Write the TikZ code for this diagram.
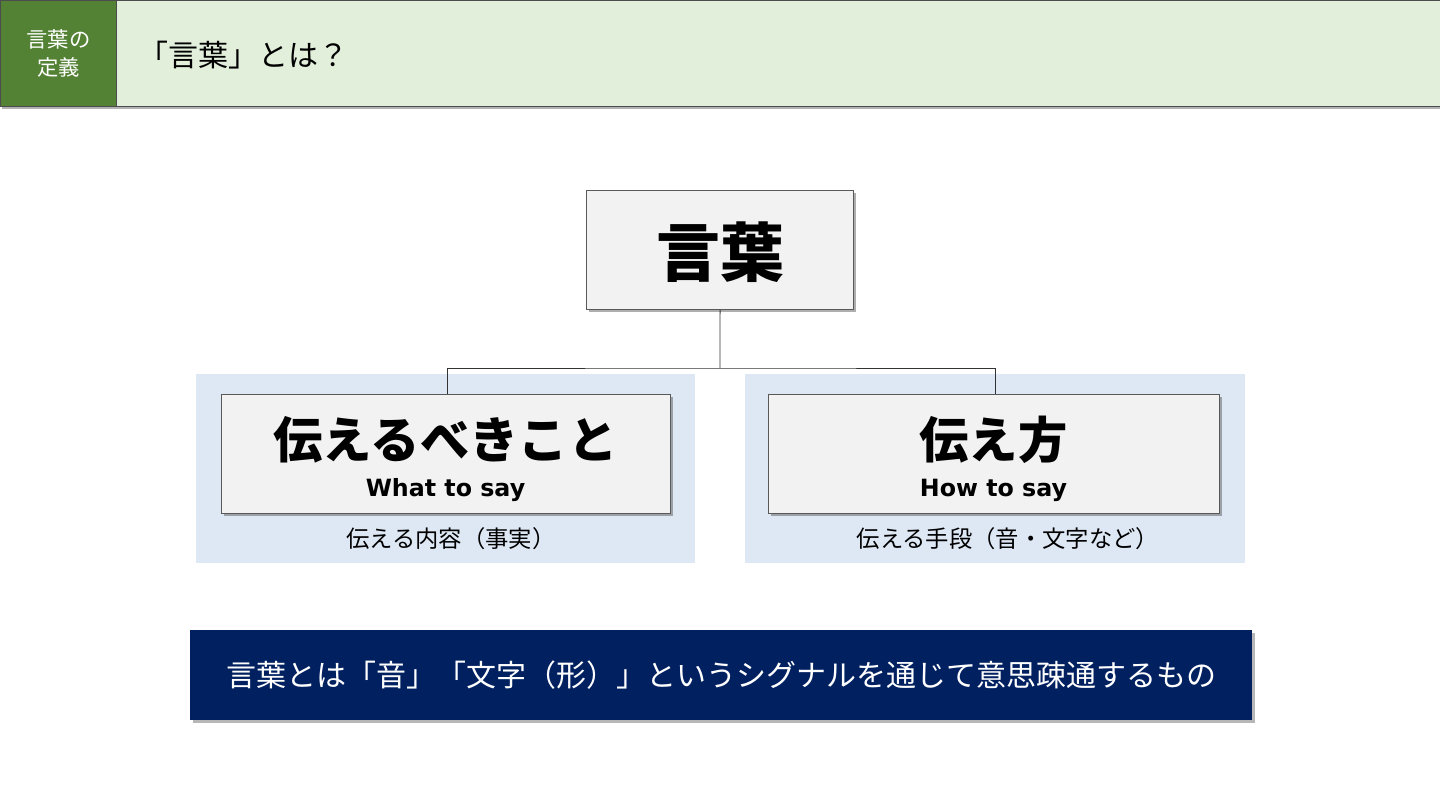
\documentclass[tikz,border=0pt]{standalone}
\usepackage{fontspec}
\setmainfont{Noto Sans CJK JP}
\newfontfamily\latinb{DejaVu Sans}
\usetikzlibrary{shadows}
\definecolor{hdrgreen}{HTML}{548235}
\definecolor{hdrlight}{HTML}{E2EFDA}
\definecolor{boxgray}{HTML}{F2F2F2}
\definecolor{panelblue}{HTML}{DEE8F5}
\definecolor{navy}{HTML}{002060}
\definecolor{edge}{HTML}{595959}
\tikzset{
  mainbox/.style={draw=edge, line width=0.9pt, fill=boxgray, drop shadow={shadow xshift=2pt, shadow yshift=-2pt, opacity=0.45, fill=black!70}},
  panel/.style={fill=panelblue, draw=none},
  conn/.style={draw=black!80, line width=0.6pt},
  lbl/.style={inner sep=0pt, anchor=center},
  sub/.style={lbl, font=\latinb\bfseries\fontsize{17.8pt}{20pt}\selectfont}
}
\begin{document}
\begin{tikzpicture}[x=0.75pt,y=-0.75pt]
\useasboundingbox (0,0) rectangle (1440,810);
\fill[white] (0,0) rectangle (1440,810);
% header
\fill[black!30] (2,104) rectangle (1440,109);
\node[draw=black!70, fill=hdrlight, line width=0.8pt, minimum width=1324*0.75pt, minimum height=106*0.75pt, anchor=north west, inner sep=0pt] (hdr) at (116,0) {};
\node[draw=black!70, fill=hdrgreen, line width=0.8pt, minimum width=116*0.75pt, minimum height=106*0.75pt, anchor=north west, inner sep=0pt] (tag) at (0,0) {};
\node[lbl, text=white, align=center, font=\fontsize{16pt}{21pt}\selectfont] (tagt) at (tag.center) {言葉の\\定義};
\node[lbl, anchor=west, font=\fontsize{22.5pt}{26pt}\selectfont] (title) at (138,55) {「言葉」とは？};
% panels
\node[panel, minimum width=499*0.75pt, minimum height=189*0.75pt, anchor=north west, inner sep=0pt] (pl) at (196,374) {};
\node[panel, minimum width=500*0.75pt, minimum height=189*0.75pt, anchor=north west, inner sep=0pt] (pr) at (745,374) {};
% boxes
\node[mainbox, minimum width=267*0.75pt, minimum height=119*0.75pt, anchor=north west, inner sep=0pt] (top) at (586,190) {};
\node[lbl, font=\bfseries\fontsize{48pt}{52pt}\selectfont] at (720,252) {言葉};
\node[mainbox, minimum width=449*0.75pt, minimum height=119*0.75pt, anchor=north west, inner sep=0pt] (bl) at (221,394) {};
\node[mainbox, minimum width=451*0.75pt, minimum height=119*0.75pt, anchor=north west, inner sep=0pt] (br) at (768,394) {};
\node[lbl, font=\bfseries\fontsize{37pt}{40pt}\selectfont] (blt) at (445.5,440) {伝えるべきこと};
\node[sub] (bls) at (445.5,490) {What to say};
\node[lbl, font=\bfseries\fontsize{37pt}{40pt}\selectfont] (brt) at (993.5,440) {伝え方};
\node[sub] (brs) at (993.5,490) {How to say};
\node[lbl, font=\fontsize{17.5pt}{20pt}\selectfont] (plt) at (451,539) {伝える内容（事実）};
\node[lbl, font=\fontsize{17.5pt}{20pt}\selectfont] (prt) at (1008,539) {伝える手段（音・文字など）};
% connectors
\coordinate (mid) at (720,368);
\draw[conn] (top.south) -- (mid);
\draw[conn] (bl.north -| 447,0) |- (mid) -| (br.north -| 995,0);
% banner
\node[fill=navy, minimum width=1062*0.75pt, minimum height=90*0.75pt, anchor=north west, inner sep=0pt, drop shadow={shadow xshift=2pt, shadow yshift=-2pt, opacity=0.4, fill=black!70}] (ban) at (190,630) {};
\node[lbl, text=white, font=\fontsize{22.5pt}{26pt}\selectfont] (bant) at (ban.center) {言葉とは「音」「文字（形）」というシグナルを通じて意思疎通するもの};
\end{tikzpicture}
\end{document}
